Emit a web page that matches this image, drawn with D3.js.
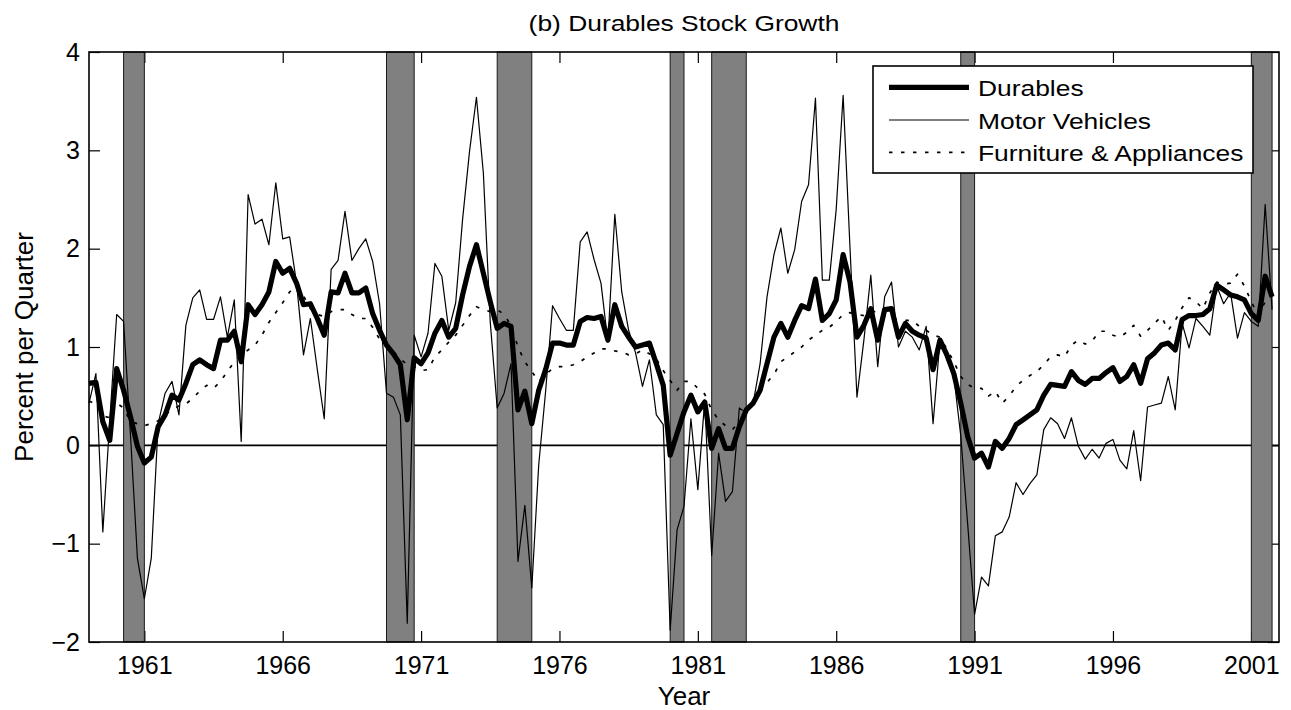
<!DOCTYPE html>
<html>
<head>
<meta charset="utf-8">
<script src="https://cdn.jsdelivr.net/npm/d3@7"></script>
<style>
  body { margin: 0; background: #fff; }
  text { font-family: "Liberation Sans", Arial, Helvetica, sans-serif; fill: #000; }
</style>
</head>
<body>
<div id="chart"></div>
<script>
// quarterly series, first quarter is 1959Q1
var startYear = 1959;

var durables = [0.63, 0.64, 0.24, 0.05, 0.78, 0.56, 0.29, -0.01, -0.18, -0.12,
  0.19, 0.31, 0.51, 0.46, 0.63, 0.82, 0.87, 0.82, 0.78, 1.07,
  1.07, 1.16, 0.85, 1.43, 1.33, 1.43, 1.56, 1.87, 1.75, 1.80,
  1.65, 1.43, 1.44, 1.29, 1.12, 1.56, 1.55, 1.75, 1.55, 1.55,
  1.60, 1.34, 1.17, 1.02, 0.93, 0.82, 0.26, 0.89, 0.83, 0.94,
  1.14, 1.27, 1.10, 1.19, 1.53, 1.82, 2.04, 1.75, 1.46, 1.19,
  1.24, 1.21, 0.36, 0.55, 0.22, 0.56, 0.77, 1.04, 1.04, 1.02,
  1.02, 1.26, 1.30, 1.29, 1.31, 1.07, 1.43, 1.21, 1.10, 1.00,
  1.02, 1.04, 0.83, 0.61, -0.10, 0.12, 0.34, 0.51, 0.34, 0.44,
  -0.03, 0.17, -0.03, -0.03, 0.19, 0.36, 0.43, 0.56, 0.83, 1.10,
  1.24, 1.10, 1.27, 1.42, 1.39, 1.69, 1.27, 1.34, 1.48, 1.94,
  1.66, 1.10, 1.22, 1.39, 1.07, 1.38, 1.39, 1.10, 1.24, 1.16,
  1.12, 1.09, 0.77, 1.07, 0.92, 0.73, 0.43, 0.09, -0.13, -0.08,
  -0.22, 0.04, -0.03, 0.07, 0.21, 0.26, 0.31, 0.36, 0.51, 0.62,
  0.61, 0.60, 0.75, 0.66, 0.62, 0.68, 0.68, 0.74, 0.79, 0.65,
  0.70, 0.82, 0.63, 0.88, 0.94, 1.02, 1.04, 0.97, 1.28, 1.32,
  1.32, 1.33, 1.39, 1.63, 1.58, 1.53, 1.51, 1.48, 1.34, 1.27,
  1.72, 1.51];

var motorVehicles = [0.43, 0.73, -0.88, 0.25, 1.33, 1.26, 0.10, -1.15, -1.56, -1.15,
  0.22, 0.53, 0.65, 0.31, 1.22, 1.50, 1.58, 1.28, 1.28, 1.51,
  1.10, 1.48, 0.04, 2.55, 2.25, 2.30, 2.04, 2.67, 2.10, 2.12,
  1.65, 0.92, 1.29, 0.77, 0.27, 1.79, 1.88, 2.38, 1.88, 2.00,
  2.10, 1.87, 1.44, 0.53, 0.49, 0.31, -1.81, 1.12, 0.90, 1.14,
  1.85, 1.72, 1.17, 1.45, 2.30, 2.99, 3.54, 2.77, 1.25, 0.38,
  0.53, 0.83, -1.18, -0.61, -1.45, -0.20, 0.55, 1.42, 1.29, 1.17,
  1.17, 2.07, 2.17, 1.89, 1.65, 1.05, 2.35, 1.56, 1.17, 0.94,
  0.60, 0.87, 0.31, 0.21, -1.88, -0.86, -0.62, 0.27, -0.45, 0.46,
  -1.12, -0.08, -0.57, -0.47, 0.38, 0.33, 0.43, 0.83, 1.51, 1.94,
  2.21, 1.75, 1.99, 2.48, 2.65, 3.53, 1.68, 1.68, 2.40, 3.56,
  2.00, 0.49, 1.07, 1.73, 0.80, 1.51, 1.66, 1.00, 1.16, 1.10,
  0.97, 1.21, 0.22, 1.07, 0.87, 0.70, 0.10, -0.80, -1.72, -1.34,
  -1.43, -0.92, -0.88, -0.73, -0.38, -0.50, -0.39, -0.30, 0.16, 0.28,
  0.22, 0.07, 0.28, -0.01, -0.14, -0.04, -0.13, 0.02, 0.06, -0.15,
  -0.24, 0.15, -0.36, 0.39, 0.41, 0.43, 0.70, 0.36, 1.24, 0.99,
  1.29, 1.21, 1.12, 1.62, 1.44, 1.55, 1.09, 1.35, 1.26, 1.21,
  2.45, 1.38];

var furniture = [0.45, 0.42, 0.30, 0.28, 0.43, 0.38, 0.24, 0.22, 0.20, 0.22,
  0.25, 0.31, 0.36, 0.40, 0.42, 0.48, 0.55, 0.61, 0.58, 0.65,
  0.75, 0.85, 0.92, 0.97, 1.02, 1.12, 1.25, 1.35, 1.45, 1.56,
  1.62, 1.52, 1.39, 1.33, 1.31, 1.36, 1.38, 1.38, 1.33, 1.29,
  1.29, 1.20, 1.08, 1.02, 0.95, 0.88, 0.82, 0.80, 0.76, 0.77,
  0.90, 0.97, 1.05, 1.12, 1.22, 1.32, 1.41, 1.38, 1.36, 1.38,
  1.33, 1.22, 1.00, 0.85, 0.75, 0.65, 0.72, 0.78, 0.80, 0.80,
  0.82, 0.85, 0.90, 0.94, 0.98, 0.98, 0.96, 0.95, 0.92, 0.93,
  0.97, 0.93, 0.88, 0.76, 0.66, 0.56, 0.65, 0.65, 0.58, 0.52,
  0.36, 0.26, 0.20, 0.16, 0.24, 0.36, 0.46, 0.56, 0.64, 0.72,
  0.85, 0.90, 0.95, 1.00, 1.07, 1.12, 1.17, 1.20, 1.26, 1.33,
  1.35, 1.33, 1.32, 1.35, 1.37, 1.32, 1.29, 1.28, 1.27, 1.27,
  1.21, 1.17, 1.12, 1.10, 0.98, 0.85, 0.70, 0.62, 0.58, 0.58,
  0.50, 0.55, 0.43, 0.50, 0.60, 0.66, 0.71, 0.75, 0.82, 0.90,
  0.92, 0.90, 1.02, 1.07, 1.03, 1.06, 1.16, 1.16, 1.12, 1.10,
  1.15, 1.22, 1.11, 1.17, 1.24, 1.31, 1.17, 1.27, 1.40, 1.50,
  1.46, 1.39, 1.55, 1.66, 1.64, 1.65, 1.74, 1.62, 1.46, 1.32,
  1.46, 1.45];

// NBER recessions (start, end) in years
var recessionStart = [1960.25, 1969.75, 1973.75, 1980.0, 1981.5, 1990.5, 2001.0];
var recessionEnd   = [1961.0, 1970.75, 1975.0, 1980.5, 1982.75, 1991.0, 2001.75];

var xTicks = [1961, 1966, 1971, 1976, 1981, 1986, 1991, 1996, 2001];
var yTicks = [-2, -1, 0, 1, 2, 3, 4];

var seriesNames = ["Durables", "Motor Vehicles", "Furniture & Appliances"];

// dimensions
var W = 1291, H = 710;
var margin = {top: 52, right: 12, bottom: 68, left: 89},
  width = W - margin.left - margin.right,
  height = H - margin.top - margin.bottom;

var svg = d3.select("#chart")
  .append("svg")
    .attr("width", W)
    .attr("height", H)
    .style("background", "#fff");

var g = svg.append("g")
  .attr("transform", "translate(" + margin.left + "," + margin.top + ")");

var x = d3.scaleLinear().domain([1959, 2002]).range([0, width]);
var y = d3.scaleLinear().domain([-2, 4]).range([height, 0]);

var quarters = durables.map(function(d, i) { return startYear + i / 4; });

// axes (ticks point inward, drawn below the recession bars like matlab)
function styleAxis(sel) {
  sel.select(".domain").remove();
  sel.selectAll(".tick line").attr("stroke", "#000").attr("stroke-width", 1.2);
  sel.selectAll(".tick text").style("font-size", "25px")
    .style("font-family", "'Liberation Sans', Arial, sans-serif").attr("fill", "#000");
}

g.append("g")
  .attr("transform", "translate(0," + height + ")")
  .call(d3.axisBottom(x).tickValues(xTicks).tickFormat(d3.format("d"))
    .tickSizeInner(-11).tickSizeOuter(0).tickPadding(14))
  .call(styleAxis);

g.append("g")
  .call(d3.axisTop(x).tickValues(xTicks).tickFormat("")
    .tickSizeInner(-11).tickSizeOuter(0))
  .call(styleAxis);

g.append("g")
  .call(d3.axisLeft(y).tickValues(yTicks).tickFormat(d3.format("d"))
    .tickSizeInner(-11).tickSizeOuter(0).tickPadding(9))
  .call(styleAxis);

g.append("g")
  .attr("transform", "translate(" + width + ",0)")
  .call(d3.axisRight(y).tickValues(yTicks).tickFormat("")
    .tickSizeInner(-11).tickSizeOuter(0))
  .call(styleAxis);

// zero line
g.append("line")
  .attr("x1", 0).attr("x2", width)
  .attr("y1", y(0)).attr("y2", y(0))
  .attr("stroke", "#000").attr("stroke-width", 1.6);

// recession bars
g.selectAll(".rec")
  .data(recessionStart)
  .enter()
  .append("rect")
    .attr("class", "rec")
    .attr("x", function(d) { return x(d); })
    .attr("y", y(4))
    .attr("width", function(d, i) { return x(recessionEnd[i]) - x(d); })
    .attr("height", y(-2) - y(4))
    .attr("fill", "#808080")
    .attr("stroke", "#1a1a1a")
    .attr("stroke-width", 1);

// lines
var line = function(vals) {
  return d3.line()
    .x(function(d, i) { return x(quarters[i]); })
    .y(function(d) { return y(d); })(vals);
};

var styles = [
  {data: durables, width: 5.2, dash: null},
  {data: motorVehicles, width: 1.2, dash: null},
  {data: furniture, width: 1.7, dash: "3.5,8.5"}
];

styles.forEach(function(s) {
  g.append("path")
    .attr("d", line(s.data))
    .attr("fill", "none")
    .attr("stroke", "#000")
    .attr("stroke-width", s.width)
    .attr("stroke-linejoin", "round")
    .attr("stroke-dasharray", s.dash);
});

// axes box
g.append("rect")
  .attr("width", width).attr("height", height)
  .attr("fill", "none").attr("stroke", "#000").attr("stroke-width", 1.6);

// text helper, horizontally widened like the reference
function wideText(parent, tx, ty, str, size, anchor) {
  return parent.append("text")
    .attr("transform", "translate(" + tx + "," + ty + ") scale(1.2,1)")
    .attr("text-anchor", anchor || "start")
    .style("font-size", size + "px")
    .text(str);
}

// title
wideText(svg, margin.left + width / 2, 31, "(b) Durables Stock Growth", 22, "middle");

// axis labels
svg.append("text")
  .attr("x", margin.left + width / 2)
  .attr("y", 705)
  .attr("text-anchor", "middle")
  .style("font-size", "26px")
  .text("Year");

svg.append("text")
  .attr("transform", "translate(33," + (margin.top + height / 2) + ") rotate(-90)")
  .attr("text-anchor", "middle")
  .style("font-size", "26px")
  .text("Percent per Quarter");

// legend
var legend = svg.append("g");
legend.append("rect")
  .attr("x", 873).attr("y", 66)
  .attr("width", 380).attr("height", 107)
  .attr("fill", "#fff").attr("stroke", "#000").attr("stroke-width", 1.6);

var rowY = [87.3, 120, 152.3];
styles.forEach(function(s, i) {
  legend.append("line")
    .attr("x1", 889).attr("x2", 969)
    .attr("y1", rowY[i]).attr("y2", rowY[i])
    .attr("stroke", "#000")
    .attr("stroke-width", s.width)
    .attr("stroke-dasharray", s.dash);
  wideText(legend, 978, rowY[i] + 8.5, seriesNames[i], 22, "start");
});
</script>
</body>
</html>
